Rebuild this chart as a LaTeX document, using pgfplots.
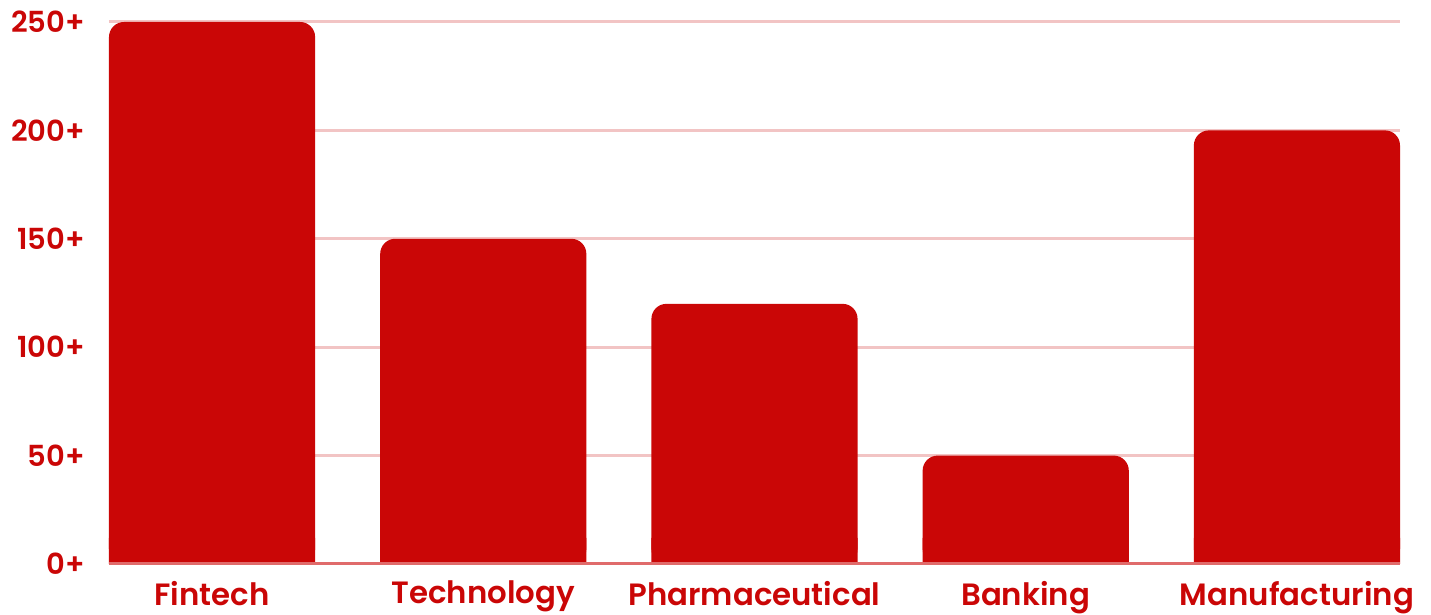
\documentclass[border=0pt]{standalone}
\usepackage{fontspec}
\setmainfont{Poppins}[BoldFont={Poppins SemiBold}]
\usepackage{pgfplots}
\usepackage{pgfplotstable}
\pgfplotsset{compat=1.18}
\definecolor{barred}{HTML}{CA0606}
\definecolor{gridpink}{HTML}{F2C4C4}
\definecolor{basepink}{HTML}{E06B6B}
\pgfplotstableread{
x v
0 250
1 150
2 120
3 50
4 200
}\datatable
\begin{document}
\begin{tikzpicture}
\begin{axis}[
  scale only axis,
  width=645.5pt, height=271pt,
  xmin=-0.38, xmax=4.38,
  ymin=0, ymax=250,
  axis line style={draw=none},
  ytick={0,50,100,150,200,250},
  yticklabel={\pgfmathprintnumber{\tick}+},
  /pgf/number format/assume math mode=true,
  xtick=data,
  xticklabels={Fintech,Technology,Pharmaceutical,Banking,Manufacturing},
  major tick length=0pt,
  ymajorgrids,
  grid style={gridpink, line width=1.5pt},
  tick label style={font=\bfseries\fontsize{14.5}{17}\selectfont, text=barred},
  yticklabel style={xshift=-8.5pt},
  xticklabel style={yshift=-5pt, font=\bfseries\fontsize{15.4}{18}\selectfont},
  clip=false,
]
\addplot[ybar, bar width=0.76, bar shift=0pt, fill=barred, draw=none, rounded corners=7.5pt]
  table[x=x, y=v] {\datatable};
\addplot[ybar, bar width=0.76, bar shift=0pt, fill=barred, draw=none, forget plot]
  table[x=x, y expr={min(\thisrow{v},12)}] {\datatable};
\draw[basepink, line width=1.5pt] (axis cs:-0.38,0) -- (axis cs:4.38,0);
\coordinate (sw) at (axis cs:-0.38,0);
\coordinate (ne) at (axis cs:4.38,250);
\end{axis}
\pgfresetboundingbox
\path[use as bounding box] ([shift={(-54.5pt,-25.5pt)}]sw) rectangle ([shift={(15.5pt,11pt)}]ne);
\end{tikzpicture}
\end{document}
